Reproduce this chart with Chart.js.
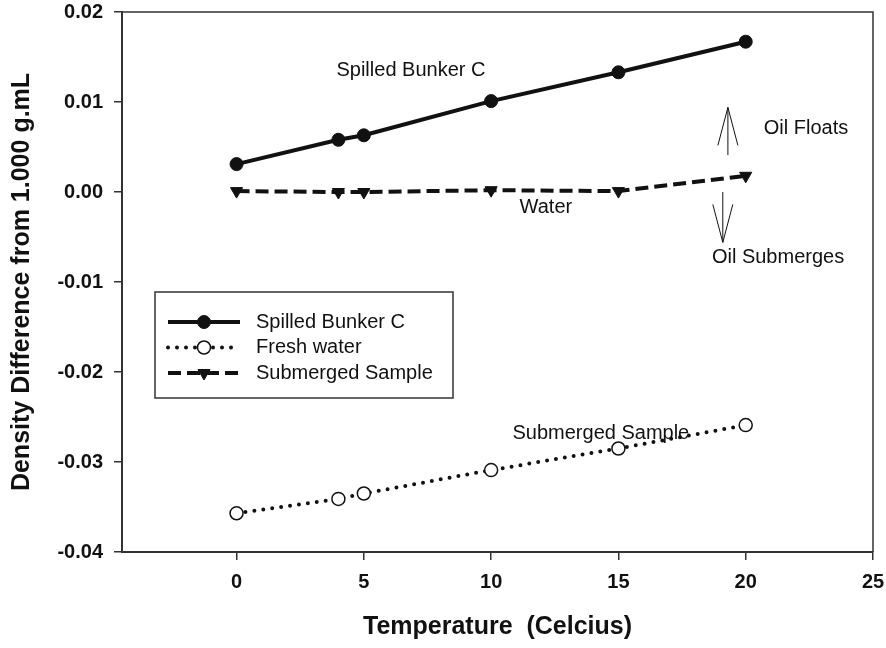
<!DOCTYPE html>
<html>
<head>
<meta charset="utf-8">
<script src="https://cdn.jsdelivr.net/npm/chart.js@4.4.1/dist/chart.umd.min.js"></script>
<style>
  html, body { margin: 0; padding: 0; background: #fff; }
  #wrap { width: 886px; height: 648px; }
</style>
</head>
<body>
<div id="wrap"><canvas id="densityChart" width="886" height="648"></canvas></div>
<script>
// temperatures (Celcius) and density differences
const temps = [0, 4, 5, 10, 15, 20];
const bunkerC = [0.0031, 0.0058, 0.0063, 0.0101, 0.0133, 0.0167];
const freshWater = [-0.0357, -0.0341, -0.0335, -0.0309, -0.0285, -0.0259];
const submerged = [0.0001, 0.0000, 0.0000, 0.0002, 0.0001, 0.0018];

const seriesNames = ['Spilled Bunker C', 'Fresh water', 'Submerged Sample'];
const xTicks = [0, 5, 10, 15, 20, 25];
const yTicks = [-0.04, -0.03, -0.02, -0.01, 0.00, 0.01, 0.02];

// text notes on the plot (data coordinates)
const notes = [
    { text: 'Spilled Bunker C', x: 6.85, y: 0.0135 },
    { text: 'Oil Floats', x: 22.37, y: 0.0071 },
    { text: 'Water', x: 12.15, y: -0.0017 },
    { text: 'Oil Submerges', x: 21.27, y: -0.0073 },
    { text: 'Submerged Sample', x: 14.31, y: -0.0268 }
];
// open arrows: x, tail y, tip y
const arrows = [
    { x: 19.30, from: 0.0041, to: 0.0094 },
    { x: 19.10, from: 0.0000, to: -0.0056 }
];

const FONT = "'Liberation Sans', Arial, sans-serif";
const INK = '#111';

function toPoints(ys) {
    return temps.map((t, i) => ({ x: t, y: ys[i] }));
}

// draws the notes, arrows, frame and the boxed legend
const extras = {
    id: 'extras',
    afterDatasetsDraw(chart) {
        const ctx = chart.ctx;
        const xs = chart.scales.x, ys = chart.scales.y;
        const area = chart.chartArea;
        ctx.save();

        // top and right frame lines
        ctx.strokeStyle = '#333';
        ctx.lineWidth = 1.5;
        ctx.beginPath();
        ctx.moveTo(area.left, area.top);
        ctx.lineTo(area.right, area.top);
        ctx.lineTo(area.right, area.bottom);
        ctx.stroke();

        ctx.fillStyle = INK;
        ctx.font = '20px ' + FONT;
        ctx.textAlign = 'center';
        ctx.textBaseline = 'middle';
        notes.forEach(n => {
            ctx.fillText(n.text, xs.getPixelForValue(n.x), ys.getPixelForValue(n.y));
        });

        ctx.strokeStyle = INK;
        ctx.lineWidth = 1;
        arrows.forEach(a => {
            const px = xs.getPixelForValue(a.x);
            const y0 = ys.getPixelForValue(a.from);
            const y1 = ys.getPixelForValue(a.to);
            const dir = y1 < y0 ? 1 : -1;
            ctx.beginPath();
            ctx.moveTo(px, y0);
            ctx.lineTo(px, y1);
            ctx.moveTo(px - 10, y1 + dir * 38);
            ctx.lineTo(px, y1);
            ctx.lineTo(px + 10, y1 + dir * 38);
            ctx.stroke();
        });

        // legend box
        const bx = area.left + 33, by = area.top + 280, bw = 298, bh = 106;
        ctx.fillStyle = '#fff';
        ctx.fillRect(bx, by, bw, bh);
        ctx.strokeStyle = '#333';
        ctx.lineWidth = 1.5;
        ctx.strokeRect(bx, by, bw, bh);

        chart.data.datasets.forEach((ds, i) => {
            const rowY = by + 30 + i * 25.5;
            const x0 = bx + 13, x1 = bx + 85, xm = (x0 + x1) / 2;
            ctx.save();
            ctx.strokeStyle = ds.borderColor;
            ctx.lineWidth = ds.borderWidth;
            ctx.lineCap = ds.borderCapStyle || 'butt';
            ctx.setLineDash(ds.borderDash || []);
            ctx.beginPath();
            ctx.moveTo(x0, rowY);
            ctx.lineTo(x1, rowY);
            ctx.stroke();
            ctx.restore();

            ctx.save();
            ctx.fillStyle = ds.pointBackgroundColor;
            ctx.strokeStyle = ds.pointBorderColor;
            ctx.lineWidth = ds.pointBorderWidth;
            ctx.setLineDash([]);
            ctx.beginPath();
            if (ds.pointStyle === 'triangle') {
                for (let k = 0; k < 3; k++) {
                    const ang = Math.PI + k * 2 * Math.PI / 3;
                    const vx = xm + Math.sin(ang) * ds.pointRadius;
                    const vy = rowY - Math.cos(ang) * ds.pointRadius;
                    if (k === 0) ctx.moveTo(vx, vy); else ctx.lineTo(vx, vy);
                }
                ctx.closePath();
            } else {
                ctx.arc(xm, rowY, ds.pointRadius, 0, Math.PI * 2);
            }
            ctx.fill();
            ctx.stroke();
            ctx.restore();

            ctx.fillStyle = INK;
            ctx.font = '20px ' + FONT;
            ctx.textAlign = 'left';
            ctx.textBaseline = 'middle';
            ctx.fillText(seriesNames[i], bx + 101, rowY);
        });
        ctx.restore();
    }
};

const ctx = document.getElementById('densityChart').getContext('2d');
const chart = new Chart(ctx, {
    type: 'line',
    data: {
        datasets: [{
            label: seriesNames[0],
            data: toPoints(bunkerC),
            borderColor: INK,
            borderWidth: 4,
            pointStyle: 'circle',
            pointRadius: 6.5,
            pointBackgroundColor: INK,
            pointBorderColor: INK,
            pointBorderWidth: 1
        }, {
            label: seriesNames[1],
            data: toPoints(freshWater),
            borderColor: INK,
            borderWidth: 4,
            borderDash: [0, 9],
            borderCapStyle: 'round',
            pointStyle: 'circle',
            pointRadius: 6.5,
            pointBackgroundColor: '#fff',
            pointBorderColor: INK,
            pointBorderWidth: 1.5
        }, {
            label: seriesNames[2],
            data: toPoints(submerged),
            borderColor: INK,
            borderWidth: 4,
            borderDash: [13, 6],
            pointStyle: 'triangle',
            pointRotation: 180,
            pointRadius: 7,
            pointBackgroundColor: INK,
            pointBorderColor: INK,
            pointBorderWidth: 1
        }]
    },
    options: {
        responsive: false,
        animation: false,
        events: [],
        layout: { padding: { top: 12, right: 13, bottom: 0, left: 0 } },
        plugins: {
            legend: { display: false },
            tooltip: { enabled: false }
        },
        scales: {
            x: {
                type: 'linear',
                min: -4.5,
                max: 25,
                afterBuildTicks: s => { s.ticks = xTicks.map(v => ({ value: v })); },
                afterFit: s => { s.height = 96; s.paddingLeft = 0; s.paddingRight = 0; },
                grid: { drawOnChartArea: false, tickLength: 8, color: '#333', lineWidth: 1.5 },
                border: { display: true, color: '#333', width: 2 },
                ticks: {
                    padding: 10,
                    color: INK,
                    maxRotation: 0,
                    font: { family: FONT, size: 20, weight: 'bold' }
                },
                title: {
                    display: true,
                    text: 'Temperature  (Celcius)',
                    color: INK,
                    padding: { top: 4, bottom: 6 },
                    font: { family: FONT, size: 25, weight: 'bold' }
                }
            },
            y: {
                min: -0.04,
                max: 0.02,
                afterBuildTicks: s => { s.ticks = yTicks.map(v => ({ value: v })); },
                afterFit: s => { s.width = 122; s.paddingTop = 0; s.paddingBottom = 0; },
                grid: { drawOnChartArea: false, tickLength: 8, color: '#333', lineWidth: 1.5 },
                border: { display: true, color: '#333', width: 2 },
                ticks: {
                    padding: 11,
                    color: INK,
                    font: { family: FONT, size: 20, weight: 'bold' },
                    callback: v => v.toFixed(2)
                },
                title: {
                    display: true,
                    text: 'Density Difference from 1.000 g.mL',
                    color: INK,
                    padding: { top: 7, bottom: 4 },
                    font: { family: FONT, size: 25, weight: 'bold' }
                }
            }
        }
    },
    plugins: [extras]
});
</script>
</body>
</html>
